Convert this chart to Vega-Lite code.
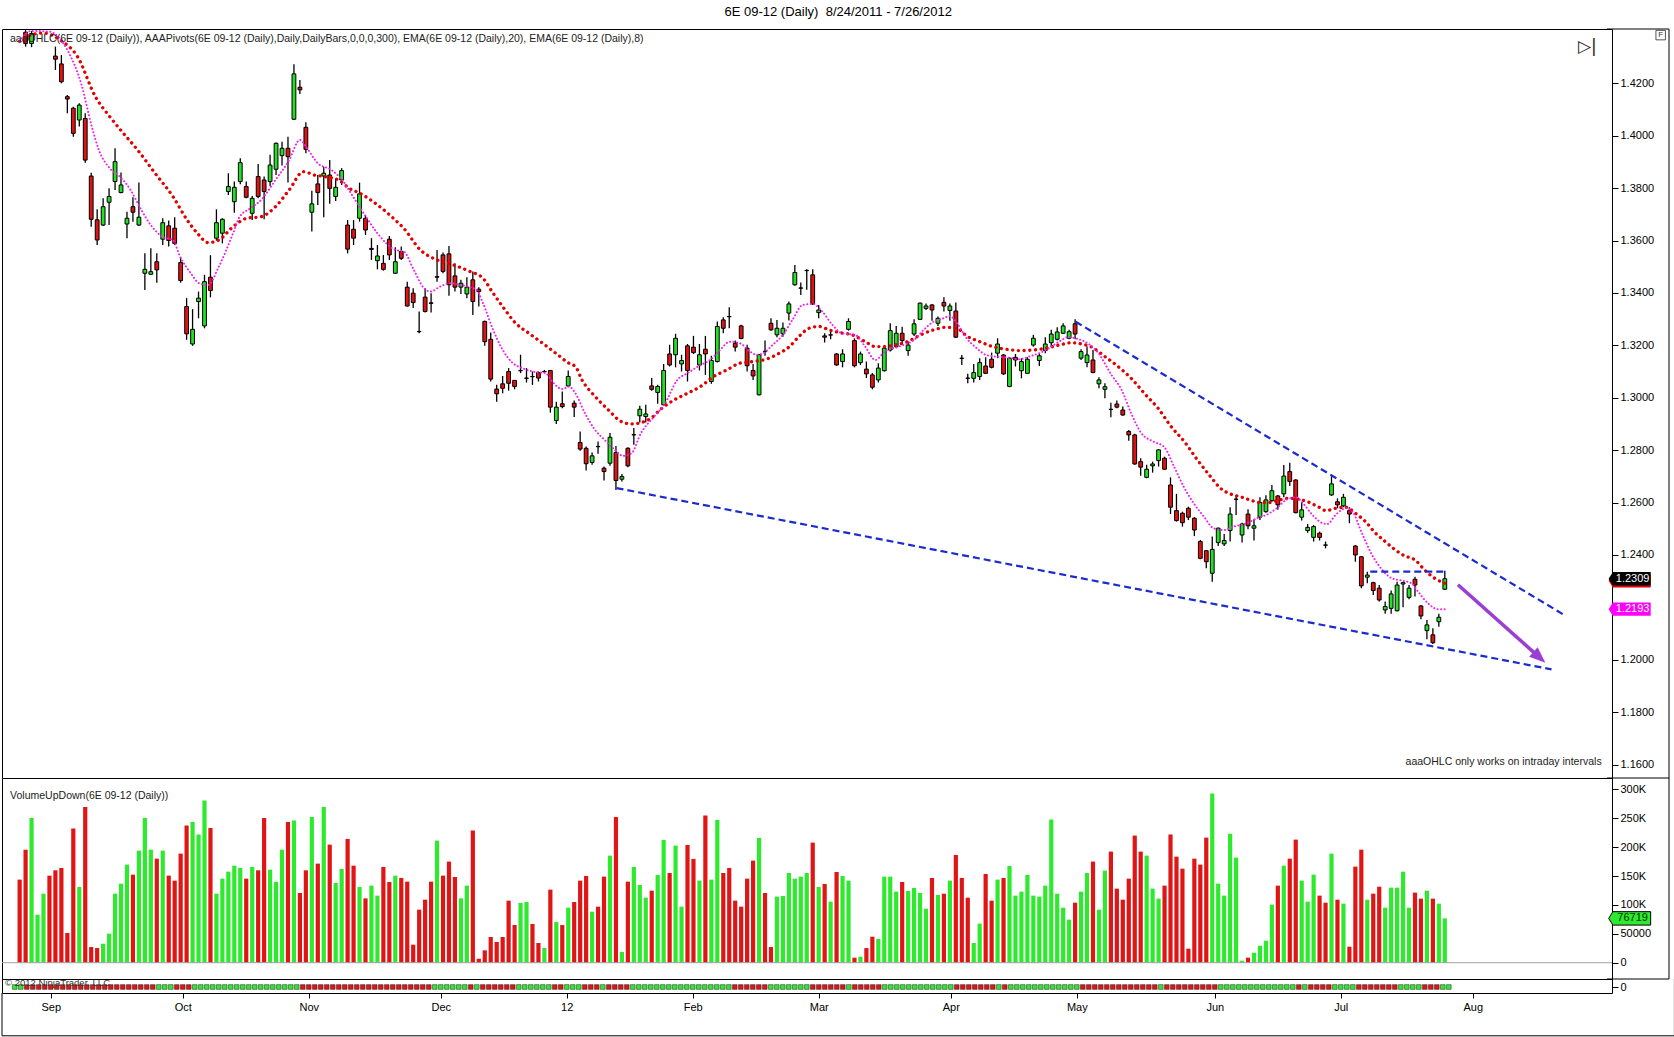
{
  "$schema": "https://vega.github.io/schema/vega-lite/v6.json",
  "background": "white",
  "padding": {"left": 1, "top": 5, "right": 1, "bottom": 0},
  "bounds": "flush",
  "spacing": 0,
  "title": {"text": "6E 09-12 (Daily)\u00a0 8/24/2011 - 7/26/2012", "font": "Liberation Sans", "fontSize": 13, "fontWeight": "normal", "color": "#000000", "anchor": "middle", "offset": 9},
  "resolve": {"scale": {"y": "independent", "color": "independent"}},
  "datasets": {
    "bars": [
      {"i":0,"o":1.445,"h":1.451,"l":1.442,"c":1.443,"v":143800,"vc":"d","sc":"u"},
      {"i":1,"o":1.4395,"h":1.442,"l":1.434,"c":1.4352,"v":195700,"vc":"d","sc":"u"},
      {"i":2,"o":1.4352,"h":1.44,"l":1.4338,"c":1.439,"v":250600,"vc":"u","sc":"d"},
      {"i":3,"o":1.442,"h":1.452,"l":1.4415,"c":1.449,"v":83100,"vc":"u","sc":"d"},
      {"i":4,"o":1.449,"h":1.454,"l":1.444,"c":1.4505,"v":119500,"vc":"u","sc":"d"},
      {"i":5,"o":1.45,"h":1.453,"l":1.442,"c":1.444,"v":150700,"vc":"d","sc":"d"},
      {"i":6,"o":1.4304,"h":1.434,"l":1.4251,"c":1.4292,"v":159900,"vc":"d","sc":"d"},
      {"i":7,"o":1.4274,"h":1.4308,"l":1.42,"c":1.4206,"v":164000,"vc":"d","sc":"d"},
      {"i":8,"o":1.4149,"h":1.4155,"l":1.4086,"c":1.414,"v":51400,"vc":"d","sc":"d"},
      {"i":9,"o":1.4105,"h":1.4111,"l":1.3996,"c":1.4009,"v":232100,"vc":"d","sc":"d"},
      {"i":10,"o":1.406,"h":1.4124,"l":1.4035,"c":1.4117,"v":131100,"vc":"u","sc":"d"},
      {"i":11,"o":1.4066,"h":1.4086,"l":1.3897,"c":1.3907,"v":269600,"vc":"d","sc":"d"},
      {"i":12,"o":1.3846,"h":1.3859,"l":1.3653,"c":1.3681,"v":27100,"vc":"d","sc":"d"},
      {"i":13,"o":1.3679,"h":1.3719,"l":1.3583,"c":1.3602,"v":25400,"vc":"d","sc":"d"},
      {"i":14,"o":1.3659,"h":1.3761,"l":1.3655,"c":1.3729,"v":32900,"vc":"u","sc":"d"},
      {"i":15,"o":1.3746,"h":1.3799,"l":1.3659,"c":1.3768,"v":50200,"vc":"u","sc":"d"},
      {"i":16,"o":1.3825,"h":1.3952,"l":1.3793,"c":1.3901,"v":119500,"vc":"u","sc":"d"},
      {"i":17,"o":1.3783,"h":1.386,"l":1.378,"c":1.3812,"v":136800,"vc":"u","sc":"d"},
      {"i":18,"o":1.3663,"h":1.371,"l":1.3609,"c":1.3685,"v":169800,"vc":"u","sc":"d"},
      {"i":19,"o":1.3729,"h":1.3765,"l":1.3672,"c":1.3708,"v":152400,"vc":"d","sc":"d"},
      {"i":20,"o":1.3659,"h":1.3821,"l":1.3655,"c":1.3689,"v":194000,"vc":"u","sc":"d"},
      {"i":21,"o":1.3475,"h":1.3551,"l":1.3411,"c":1.349,"v":250600,"vc":"u","sc":"d"},
      {"i":22,"o":1.3471,"h":1.357,"l":1.347,"c":1.3481,"v":195700,"vc":"u","sc":"d"},
      {"i":23,"o":1.3519,"h":1.3551,"l":1.3439,"c":1.3488,"v":180100,"vc":"d","sc":"d"},
      {"i":24,"o":1.3605,"h":1.3685,"l":1.3583,"c":1.3668,"v":194000,"vc":"u","sc":"u"},
      {"i":25,"o":1.3656,"h":1.3676,"l":1.3577,"c":1.36,"v":150700,"vc":"d","sc":"u"},
      {"i":26,"o":1.3647,"h":1.3689,"l":1.3583,"c":1.3589,"v":142000,"vc":"d","sc":"u"},
      {"i":27,"o":1.3516,"h":1.3536,"l":1.3439,"c":1.3447,"v":188800,"vc":"d","sc":"d"},
      {"i":28,"o":1.3348,"h":1.338,"l":1.3221,"c":1.3244,"v":237300,"vc":"d","sc":"d"},
      {"i":29,"o":1.3205,"h":1.3338,"l":1.3198,"c":1.3261,"v":243700,"vc":"u","sc":"d"},
      {"i":30,"o":1.3367,"h":1.3405,"l":1.3303,"c":1.338,"v":221700,"vc":"u","sc":"u"},
      {"i":31,"o":1.3274,"h":1.3469,"l":1.3265,"c":1.3443,"v":280600,"vc":"u","sc":"u"},
      {"i":32,"o":1.346,"h":1.3544,"l":1.3383,"c":1.3409,"v":233300,"vc":"d","sc":"u"},
      {"i":33,"o":1.3609,"h":1.3719,"l":1.36,"c":1.3668,"v":119500,"vc":"u","sc":"u"},
      {"i":34,"o":1.3628,"h":1.3685,"l":1.3589,"c":1.3681,"v":145500,"vc":"u","sc":"u"},
      {"i":35,"o":1.3787,"h":1.3857,"l":1.3774,"c":1.3806,"v":157600,"vc":"u","sc":"u"},
      {"i":36,"o":1.3748,"h":1.3825,"l":1.3706,"c":1.3803,"v":168000,"vc":"u","sc":"u"},
      {"i":37,"o":1.3825,"h":1.3914,"l":1.3815,"c":1.3897,"v":164000,"vc":"u","sc":"u"},
      {"i":38,"o":1.3806,"h":1.3825,"l":1.3761,"c":1.3765,"v":145500,"vc":"d","sc":"u"},
      {"i":39,"o":1.3704,"h":1.377,"l":1.3678,"c":1.3761,"v":165700,"vc":"u","sc":"u"},
      {"i":40,"o":1.3844,"h":1.3892,"l":1.3761,"c":1.3768,"v":159900,"vc":"d","sc":"u"},
      {"i":41,"o":1.3831,"h":1.3844,"l":1.3681,"c":1.3787,"v":250600,"vc":"d","sc":"u"},
      {"i":42,"o":1.3825,"h":1.3927,"l":1.3808,"c":1.3888,"v":161100,"vc":"u","sc":"u"},
      {"i":43,"o":1.3872,"h":1.3974,"l":1.385,"c":1.3971,"v":139700,"vc":"u","sc":"u"},
      {"i":44,"o":1.3924,"h":1.3977,"l":1.3886,"c":1.3952,"v":195700,"vc":"u","sc":"u"},
      {"i":45,"o":1.3952,"h":1.3996,"l":1.3821,"c":1.392,"v":243700,"vc":"d","sc":"u"},
      {"i":46,"o":1.4063,"h":1.4273,"l":1.406,"c":1.4236,"v":246000,"vc":"u","sc":"u"},
      {"i":47,"o":1.4185,"h":1.4213,"l":1.4159,"c":1.4175,"v":120700,"vc":"d","sc":"u"},
      {"i":48,"o":1.4032,"h":1.4051,"l":1.3933,"c":1.3948,"v":159900,"vc":"d","sc":"d"},
      {"i":49,"o":1.3708,"h":1.379,"l":1.3634,"c":1.374,"v":252300,"vc":"u","sc":"d"},
      {"i":50,"o":1.3816,"h":1.385,"l":1.3736,"c":1.3783,"v":171500,"vc":"d","sc":"d"},
      {"i":51,"o":1.3846,"h":1.3882,"l":1.3689,"c":1.3857,"v":269600,"vc":"u","sc":"d"},
      {"i":52,"o":1.385,"h":1.3907,"l":1.374,"c":1.3799,"v":204400,"vc":"d","sc":"d"},
      {"i":53,"o":1.3768,"h":1.3837,"l":1.3751,"c":1.3803,"v":138000,"vc":"u","sc":"d"},
      {"i":54,"o":1.3831,"h":1.3876,"l":1.3812,"c":1.3867,"v":162200,"vc":"u","sc":"d"},
      {"i":55,"o":1.3659,"h":1.3678,"l":1.3551,"c":1.3567,"v":214200,"vc":"d","sc":"d"},
      {"i":56,"o":1.3643,"h":1.3678,"l":1.3583,"c":1.3609,"v":168000,"vc":"d","sc":"d"},
      {"i":57,"o":1.3685,"h":1.3821,"l":1.3672,"c":1.3778,"v":131100,"vc":"u","sc":"d"},
      {"i":58,"o":1.3685,"h":1.3698,"l":1.3621,"c":1.364,"v":111400,"vc":"d","sc":"d"},
      {"i":59,"o":1.357,"h":1.3609,"l":1.3526,"c":1.3566,"v":133400,"vc":"u","sc":"d"},
      {"i":60,"o":1.3523,"h":1.3583,"l":1.349,"c":1.3541,"v":116100,"vc":"u","sc":"d"},
      {"i":61,"o":1.3513,"h":1.3545,"l":1.3485,"c":1.349,"v":165700,"vc":"d","sc":"d"},
      {"i":62,"o":1.3605,"h":1.3617,"l":1.3526,"c":1.3545,"v":139700,"vc":"d","sc":"d"},
      {"i":63,"o":1.3475,"h":1.3574,"l":1.3472,"c":1.3519,"v":150700,"vc":"u","sc":"d"},
      {"i":64,"o":1.3558,"h":1.3577,"l":1.3526,"c":1.3532,"v":146700,"vc":"d","sc":"d"},
      {"i":65,"o":1.3422,"h":1.3443,"l":1.3348,"c":1.335,"v":140300,"vc":"d","sc":"d"},
      {"i":66,"o":1.3399,"h":1.3418,"l":1.3342,"c":1.3363,"v":31200,"vc":"d","sc":"d"},
      {"i":67,"o":1.3253,"h":1.3329,"l":1.3246,"c":1.3252,"v":91800,"vc":"d","sc":"d"},
      {"i":68,"o":1.3384,"h":1.3418,"l":1.3325,"c":1.3329,"v":109100,"vc":"d","sc":"d"},
      {"i":69,"o":1.3362,"h":1.3399,"l":1.3325,"c":1.336,"v":140300,"vc":"d","sc":"d"},
      {"i":70,"o":1.3462,"h":1.3564,"l":1.3443,"c":1.346,"v":211300,"vc":"u","sc":"u"},
      {"i":71,"o":1.3545,"h":1.3554,"l":1.3475,"c":1.3482,"v":150700,"vc":"d","sc":"u"},
      {"i":72,"o":1.3549,"h":1.3579,"l":1.3389,"c":1.3431,"v":175000,"vc":"d","sc":"u"},
      {"i":73,"o":1.3465,"h":1.3513,"l":1.3405,"c":1.3422,"v":148400,"vc":"d","sc":"u"},
      {"i":74,"o":1.3422,"h":1.345,"l":1.3396,"c":1.3437,"v":111400,"vc":"u","sc":"u"},
      {"i":75,"o":1.3396,"h":1.346,"l":1.338,"c":1.3422,"v":133400,"vc":"u","sc":"u"},
      {"i":76,"o":1.345,"h":1.3482,"l":1.3316,"c":1.3367,"v":228700,"vc":"d","sc":"d"},
      {"i":77,"o":1.3414,"h":1.3422,"l":1.3348,"c":1.3405,"v":6900,"vc":"d","sc":"u"},
      {"i":78,"o":1.3291,"h":1.3295,"l":1.3198,"c":1.3214,"v":21400,"vc":"d","sc":"d"},
      {"i":79,"o":1.3223,"h":1.3249,"l":1.3062,"c":1.3071,"v":44500,"vc":"d","sc":"d"},
      {"i":80,"o":1.3033,"h":1.3049,"l":1.2985,"c":1.3015,"v":35800,"vc":"d","sc":"d"},
      {"i":81,"o":1.3053,"h":1.3083,"l":1.3017,"c":1.3036,"v":44500,"vc":"d","sc":"d"},
      {"i":82,"o":1.31,"h":1.3113,"l":1.3027,"c":1.3055,"v":107400,"vc":"d","sc":"d"},
      {"i":83,"o":1.3066,"h":1.3068,"l":1.3032,"c":1.3043,"v":65200,"vc":"d","sc":"d"},
      {"i":84,"o":1.3104,"h":1.3164,"l":1.3094,"c":1.3103,"v":103400,"vc":"u","sc":"u"},
      {"i":85,"o":1.3075,"h":1.3113,"l":1.3058,"c":1.3074,"v":105100,"vc":"u","sc":"u"},
      {"i":86,"o":1.3081,"h":1.31,"l":1.3049,"c":1.308,"v":67000,"vc":"d","sc":"u"},
      {"i":87,"o":1.3096,"h":1.31,"l":1.3062,"c":1.3075,"v":34100,"vc":"d","sc":"u"},
      {"i":88,"o":1.31,"h":1.3106,"l":1.3094,"c":1.3099,"v":25400,"vc":"u","sc":"u"},
      {"i":89,"o":1.3104,"h":1.3106,"l":1.2943,"c":1.2964,"v":126500,"vc":"d","sc":"u"},
      {"i":90,"o":1.2913,"h":1.2985,"l":1.29,"c":1.2964,"v":70400,"vc":"u","sc":"d"},
      {"i":91,"o":1.2977,"h":1.3024,"l":1.296,"c":1.2966,"v":65200,"vc":"d","sc":"d"},
      {"i":92,"o":1.3045,"h":1.3104,"l":1.304,"c":1.3081,"v":95300,"vc":"u","sc":"u"},
      {"i":93,"o":1.2979,"h":1.2989,"l":1.2926,"c":1.2964,"v":105100,"vc":"d","sc":"u"},
      {"i":94,"o":1.2829,"h":1.2871,"l":1.2798,"c":1.2804,"v":142000,"vc":"d","sc":"u"},
      {"i":95,"o":1.2807,"h":1.2814,"l":1.2722,"c":1.2748,"v":150100,"vc":"d","sc":"d"},
      {"i":96,"o":1.2753,"h":1.2791,"l":1.2744,"c":1.2778,"v":88300,"vc":"u","sc":"d"},
      {"i":97,"o":1.2814,"h":1.2833,"l":1.2786,"c":1.2813,"v":97000,"vc":"d","sc":"d"},
      {"i":98,"o":1.2731,"h":1.2737,"l":1.2684,"c":1.2718,"v":149000,"vc":"d","sc":"u"},
      {"i":99,"o":1.275,"h":1.2865,"l":1.274,"c":1.2849,"v":185300,"vc":"u","sc":"d"},
      {"i":100,"o":1.2791,"h":1.2816,"l":1.2648,"c":1.2684,"v":252300,"vc":"d","sc":"d"},
      {"i":101,"o":1.2689,"h":1.2709,"l":1.268,"c":1.2699,"v":18500,"vc":"u","sc":"d"},
      {"i":102,"o":1.2807,"h":1.2811,"l":1.2735,"c":1.274,"v":140300,"vc":"d","sc":"d"},
      {"i":103,"o":1.2859,"h":1.2884,"l":1.282,"c":1.2858,"v":165700,"vc":"u","sc":"u"},
      {"i":104,"o":1.2931,"h":1.2969,"l":1.2905,"c":1.2956,"v":134500,"vc":"u","sc":"u"},
      {"i":105,"o":1.2928,"h":1.2973,"l":1.2905,"c":1.2938,"v":112600,"vc":"u","sc":"u"},
      {"i":106,"o":1.3045,"h":1.3075,"l":1.3027,"c":1.3032,"v":124700,"vc":"d","sc":"u"},
      {"i":107,"o":1.302,"h":1.3049,"l":1.2977,"c":1.3043,"v":151900,"vc":"u","sc":"u"},
      {"i":108,"o":1.2973,"h":1.3129,"l":1.2969,"c":1.3104,"v":212500,"vc":"u","sc":"u"},
      {"i":109,"o":1.3167,"h":1.3202,"l":1.3119,"c":1.3125,"v":155300,"vc":"d","sc":"u"},
      {"i":110,"o":1.3164,"h":1.3244,"l":1.3116,"c":1.3227,"v":202700,"vc":"u","sc":"u"},
      {"i":111,"o":1.3129,"h":1.3164,"l":1.31,"c":1.3142,"v":97000,"vc":"u","sc":"u"},
      {"i":112,"o":1.3198,"h":1.3205,"l":1.3062,"c":1.3104,"v":203800,"vc":"d","sc":"u"},
      {"i":113,"o":1.3193,"h":1.3236,"l":1.3167,"c":1.3172,"v":179600,"vc":"d","sc":"u"},
      {"i":114,"o":1.3125,"h":1.3205,"l":1.3104,"c":1.3164,"v":142000,"vc":"u","sc":"u"},
      {"i":115,"o":1.3185,"h":1.3236,"l":1.3087,"c":1.3167,"v":254600,"vc":"d","sc":"u"},
      {"i":116,"o":1.3062,"h":1.316,"l":1.3053,"c":1.3142,"v":143800,"vc":"u","sc":"u"},
      {"i":117,"o":1.3138,"h":1.3291,"l":1.3134,"c":1.3272,"v":247100,"vc":"u","sc":"u"},
      {"i":118,"o":1.3297,"h":1.3307,"l":1.3246,"c":1.3265,"v":155300,"vc":"d","sc":"u"},
      {"i":119,"o":1.331,"h":1.3345,"l":1.3265,"c":1.3309,"v":164000,"vc":"d","sc":"u"},
      {"i":120,"o":1.3208,"h":1.3218,"l":1.3176,"c":1.3193,"v":107400,"vc":"d","sc":"d"},
      {"i":121,"o":1.3274,"h":1.3278,"l":1.3223,"c":1.3226,"v":97000,"vc":"d","sc":"d"},
      {"i":122,"o":1.3189,"h":1.3202,"l":1.31,"c":1.3122,"v":145500,"vc":"d","sc":"d"},
      {"i":123,"o":1.3104,"h":1.3129,"l":1.3068,"c":1.3083,"v":176700,"vc":"d","sc":"d"},
      {"i":124,"o":1.3011,"h":1.3167,"l":1.3008,"c":1.3164,"v":216000,"vc":"u","sc":"d"},
      {"i":125,"o":1.3177,"h":1.3218,"l":1.316,"c":1.3176,"v":120700,"vc":"d","sc":"d"},
      {"i":126,"o":1.3284,"h":1.3303,"l":1.3256,"c":1.3259,"v":27100,"vc":"d","sc":"u"},
      {"i":127,"o":1.324,"h":1.3297,"l":1.3231,"c":1.3265,"v":114300,"vc":"u","sc":"u"},
      {"i":128,"o":1.3244,"h":1.3287,"l":1.3233,"c":1.3265,"v":115500,"vc":"u","sc":"u"},
      {"i":129,"o":1.3323,"h":1.3367,"l":1.3295,"c":1.3358,"v":155300,"vc":"u","sc":"u"},
      {"i":130,"o":1.3431,"h":1.3507,"l":1.3427,"c":1.3478,"v":145500,"vc":"u","sc":"u"},
      {"i":131,"o":1.3419,"h":1.344,"l":1.3392,"c":1.3418,"v":149000,"vc":"u","sc":"u"},
      {"i":132,"o":1.3486,"h":1.349,"l":1.3412,"c":1.3485,"v":155300,"vc":"u","sc":"u"},
      {"i":133,"o":1.3469,"h":1.349,"l":1.3354,"c":1.3358,"v":207900,"vc":"d","sc":"d"},
      {"i":134,"o":1.3325,"h":1.3354,"l":1.3303,"c":1.3335,"v":131100,"vc":"u","sc":"d"},
      {"i":135,"o":1.3236,"h":1.3246,"l":1.3211,"c":1.3231,"v":136300,"vc":"d","sc":"d"},
      {"i":136,"o":1.324,"h":1.3259,"l":1.3223,"c":1.3239,"v":105700,"vc":"u","sc":"d"},
      {"i":137,"o":1.3167,"h":1.317,"l":1.3122,"c":1.3125,"v":157100,"vc":"d","sc":"d"},
      {"i":138,"o":1.3138,"h":1.3185,"l":1.3116,"c":1.3167,"v":150100,"vc":"u","sc":"d"},
      {"i":139,"o":1.3261,"h":1.3303,"l":1.3256,"c":1.3291,"v":142000,"vc":"u","sc":"u"},
      {"i":140,"o":1.3218,"h":1.3227,"l":1.3116,"c":1.3122,"v":8700,"vc":"d","sc":"d"},
      {"i":141,"o":1.3134,"h":1.3176,"l":1.3125,"c":1.3167,"v":10400,"vc":"u","sc":"d"},
      {"i":142,"o":1.3109,"h":1.3138,"l":1.3075,"c":1.3091,"v":25400,"vc":"d","sc":"d"},
      {"i":143,"o":1.3087,"h":1.3094,"l":1.3032,"c":1.304,"v":45000,"vc":"d","sc":"d"},
      {"i":144,"o":1.3068,"h":1.3132,"l":1.3058,"c":1.3113,"v":41000,"vc":"u","sc":"d"},
      {"i":145,"o":1.3103,"h":1.3201,"l":1.31,"c":1.3189,"v":149000,"vc":"u","sc":"u"},
      {"i":146,"o":1.3182,"h":1.3284,"l":1.3176,"c":1.3256,"v":149000,"vc":"u","sc":"u"},
      {"i":147,"o":1.3195,"h":1.3274,"l":1.3189,"c":1.3246,"v":123000,"vc":"u","sc":"u"},
      {"i":148,"o":1.3246,"h":1.3271,"l":1.3201,"c":1.3218,"v":139700,"vc":"d","sc":"u"},
      {"i":149,"o":1.318,"h":1.3214,"l":1.316,"c":1.3201,"v":124100,"vc":"u","sc":"u"},
      {"i":150,"o":1.3243,"h":1.3299,"l":1.3236,"c":1.3282,"v":129300,"vc":"u","sc":"u"},
      {"i":151,"o":1.3299,"h":1.3363,"l":1.3297,"c":1.3361,"v":120700,"vc":"u","sc":"u"},
      {"i":152,"o":1.3341,"h":1.336,"l":1.3335,"c":1.335,"v":93500,"vc":"u","sc":"u"},
      {"i":153,"o":1.3354,"h":1.3358,"l":1.3294,"c":1.3335,"v":146700,"vc":"d","sc":"u"},
      {"i":154,"o":1.3284,"h":1.331,"l":1.3274,"c":1.3303,"v":117200,"vc":"u","sc":"u"},
      {"i":155,"o":1.3364,"h":1.3383,"l":1.3329,"c":1.335,"v":119500,"vc":"d","sc":"u"},
      {"i":156,"o":1.3333,"h":1.336,"l":1.3294,"c":1.335,"v":142000,"vc":"u","sc":"u"},
      {"i":157,"o":1.3331,"h":1.3363,"l":1.3228,"c":1.3231,"v":186500,"vc":"d","sc":"d"},
      {"i":158,"o":1.3151,"h":1.3163,"l":1.3125,"c":1.315,"v":146700,"vc":"d","sc":"d"},
      {"i":159,"o":1.3075,"h":1.3091,"l":1.3055,"c":1.3074,"v":112600,"vc":"d","sc":"d"},
      {"i":160,"o":1.3074,"h":1.3129,"l":1.3058,"c":1.3096,"v":34100,"vc":"u","sc":"d"},
      {"i":161,"o":1.3081,"h":1.3151,"l":1.3068,"c":1.3134,"v":67600,"vc":"u","sc":"d"},
      {"i":162,"o":1.3121,"h":1.3154,"l":1.3091,"c":1.3093,"v":153600,"vc":"d","sc":"d"},
      {"i":163,"o":1.3147,"h":1.3172,"l":1.3112,"c":1.3116,"v":107400,"vc":"d","sc":"d"},
      {"i":164,"o":1.317,"h":1.3227,"l":1.3151,"c":1.3205,"v":143800,"vc":"u","sc":"u"},
      {"i":165,"o":1.3163,"h":1.3167,"l":1.3087,"c":1.3091,"v":146700,"vc":"d","sc":"d"},
      {"i":166,"o":1.3043,"h":1.3154,"l":1.304,"c":1.3151,"v":167400,"vc":"u","sc":"u"},
      {"i":167,"o":1.3154,"h":1.3167,"l":1.3119,"c":1.3144,"v":116100,"vc":"u","sc":"u"},
      {"i":168,"o":1.3103,"h":1.3151,"l":1.3074,"c":1.3138,"v":123000,"vc":"u","sc":"u"},
      {"i":169,"o":1.3093,"h":1.3154,"l":1.3091,"c":1.3147,"v":151900,"vc":"u","sc":"u"},
      {"i":170,"o":1.3201,"h":1.324,"l":1.3195,"c":1.3227,"v":116100,"vc":"u","sc":"u"},
      {"i":171,"o":1.3142,"h":1.3167,"l":1.3121,"c":1.316,"v":114300,"vc":"u","sc":"u"},
      {"i":172,"o":1.318,"h":1.3231,"l":1.317,"c":1.3205,"v":133400,"vc":"u","sc":"u"},
      {"i":173,"o":1.321,"h":1.3259,"l":1.3195,"c":1.3243,"v":247700,"vc":"u","sc":"u"},
      {"i":174,"o":1.3223,"h":1.3269,"l":1.3218,"c":1.3251,"v":119500,"vc":"u","sc":"u"},
      {"i":175,"o":1.3246,"h":1.3284,"l":1.3243,"c":1.3274,"v":95300,"vc":"u","sc":"u"},
      {"i":176,"o":1.3227,"h":1.3259,"l":1.3223,"c":1.3252,"v":74500,"vc":"u","sc":"u"},
      {"i":177,"o":1.3282,"h":1.3299,"l":1.3223,"c":1.3243,"v":103900,"vc":"d","sc":"u"},
      {"i":178,"o":1.3151,"h":1.3185,"l":1.3144,"c":1.3176,"v":123000,"vc":"u","sc":"d"},
      {"i":179,"o":1.3134,"h":1.3195,"l":1.3116,"c":1.3163,"v":155300,"vc":"u","sc":"d"},
      {"i":180,"o":1.3144,"h":1.3182,"l":1.3093,"c":1.3096,"v":175000,"vc":"d","sc":"d"},
      {"i":181,"o":1.3053,"h":1.3078,"l":1.3036,"c":1.3068,"v":91800,"vc":"u","sc":"d"},
      {"i":182,"o":1.3032,"h":1.3055,"l":1.2998,"c":1.3042,"v":159400,"vc":"u","sc":"d"},
      {"i":183,"o":1.2956,"h":1.2981,"l":1.2925,"c":1.2955,"v":192300,"vc":"d","sc":"d"},
      {"i":184,"o":1.2976,"h":1.2989,"l":1.296,"c":1.2964,"v":128200,"vc":"d","sc":"d"},
      {"i":185,"o":1.2953,"h":1.2966,"l":1.2931,"c":1.2934,"v":109100,"vc":"d","sc":"d"},
      {"i":186,"o":1.2871,"h":1.2877,"l":1.2836,"c":1.2858,"v":145500,"vc":"d","sc":"d"},
      {"i":187,"o":1.2858,"h":1.2862,"l":1.2744,"c":1.2747,"v":220000,"vc":"d","sc":"d"},
      {"i":188,"o":1.2756,"h":1.2769,"l":1.2702,"c":1.2735,"v":192300,"vc":"d","sc":"d"},
      {"i":189,"o":1.2696,"h":1.2744,"l":1.2693,"c":1.2727,"v":185300,"vc":"u","sc":"d"},
      {"i":190,"o":1.274,"h":1.2756,"l":1.2714,"c":1.2747,"v":128200,"vc":"u","sc":"d"},
      {"i":191,"o":1.276,"h":1.2803,"l":1.2737,"c":1.2801,"v":110900,"vc":"u","sc":"u"},
      {"i":192,"o":1.2769,"h":1.2775,"l":1.2724,"c":1.2727,"v":133400,"vc":"d","sc":"d"},
      {"i":193,"o":1.2667,"h":1.2696,"l":1.2556,"c":1.2582,"v":221700,"vc":"d","sc":"d"},
      {"i":194,"o":1.2569,"h":1.2633,"l":1.2527,"c":1.2531,"v":183600,"vc":"d","sc":"d"},
      {"i":195,"o":1.2559,"h":1.2565,"l":1.2508,"c":1.2523,"v":162800,"vc":"d","sc":"d"},
      {"i":196,"o":1.2578,"h":1.2584,"l":1.2533,"c":1.2544,"v":24300,"vc":"d","sc":"d"},
      {"i":197,"o":1.254,"h":1.2544,"l":1.2472,"c":1.2495,"v":180100,"vc":"d","sc":"d"},
      {"i":198,"o":1.2451,"h":1.2457,"l":1.2383,"c":1.2387,"v":169800,"vc":"d","sc":"d"},
      {"i":199,"o":1.2416,"h":1.2419,"l":1.2349,"c":1.2374,"v":216500,"vc":"d","sc":"d"},
      {"i":200,"o":1.233,"h":1.247,"l":1.2298,"c":1.2421,"v":292700,"vc":"u","sc":"d"},
      {"i":201,"o":1.2447,"h":1.2505,"l":1.2434,"c":1.2502,"v":136800,"vc":"u","sc":"u"},
      {"i":202,"o":1.2442,"h":1.248,"l":1.2434,"c":1.2455,"v":116100,"vc":"u","sc":"u"},
      {"i":203,"o":1.2493,"h":1.2582,"l":1.2451,"c":1.2556,"v":223400,"vc":"u","sc":"u"},
      {"i":204,"o":1.2613,"h":1.2629,"l":1.2552,"c":1.2612,"v":181900,"vc":"u","sc":"u"},
      {"i":205,"o":1.2476,"h":1.2523,"l":1.2447,"c":1.2518,"v":3500,"vc":"u","sc":"u"},
      {"i":206,"o":1.2556,"h":1.2574,"l":1.2498,"c":1.2511,"v":8700,"vc":"d","sc":"u"},
      {"i":207,"o":1.2502,"h":1.2536,"l":1.2455,"c":1.2511,"v":17300,"vc":"u","sc":"u"},
      {"i":208,"o":1.2544,"h":1.262,"l":1.2533,"c":1.26,"v":29400,"vc":"u","sc":"u"},
      {"i":209,"o":1.2565,"h":1.2628,"l":1.2561,"c":1.261,"v":38100,"vc":"u","sc":"u"},
      {"i":210,"o":1.2607,"h":1.2667,"l":1.2603,"c":1.2645,"v":100500,"vc":"u","sc":"u"},
      {"i":211,"o":1.2625,"h":1.2629,"l":1.2572,"c":1.2591,"v":133400,"vc":"d","sc":"u"},
      {"i":212,"o":1.2633,"h":1.2743,"l":1.262,"c":1.2701,"v":168000,"vc":"u","sc":"u"},
      {"i":213,"o":1.2718,"h":1.2752,"l":1.2663,"c":1.268,"v":180100,"vc":"d","sc":"u"},
      {"i":214,"o":1.2686,"h":1.2689,"l":1.2559,"c":1.2561,"v":213100,"vc":"d","sc":"d"},
      {"i":215,"o":1.2544,"h":1.2603,"l":1.2531,"c":1.2572,"v":142000,"vc":"u","sc":"u"},
      {"i":216,"o":1.2493,"h":1.2518,"l":1.2485,"c":1.2505,"v":105700,"vc":"u","sc":"d"},
      {"i":217,"o":1.2467,"h":1.2514,"l":1.2451,"c":1.2508,"v":152400,"vc":"u","sc":"d"},
      {"i":218,"o":1.2483,"h":1.2489,"l":1.2455,"c":1.2467,"v":116100,"vc":"d","sc":"d"},
      {"i":219,"o":1.2438,"h":1.2451,"l":1.2425,"c":1.2437,"v":103900,"vc":"d","sc":"d"},
      {"i":220,"o":1.2629,"h":1.2701,"l":1.2625,"c":1.2671,"v":188800,"vc":"u","sc":"u"},
      {"i":221,"o":1.2603,"h":1.2616,"l":1.2578,"c":1.2591,"v":109100,"vc":"d","sc":"u"},
      {"i":222,"o":1.2587,"h":1.2633,"l":1.2582,"c":1.262,"v":102200,"vc":"u","sc":"u"},
      {"i":223,"o":1.2569,"h":1.2582,"l":1.2521,"c":1.2556,"v":27700,"vc":"d","sc":"u"},
      {"i":224,"o":1.2434,"h":1.2438,"l":1.2374,"c":1.24,"v":166300,"vc":"d","sc":"d"},
      {"i":225,"o":1.2393,"h":1.2396,"l":1.2273,"c":1.2282,"v":195700,"vc":"d","sc":"d"},
      {"i":226,"o":1.2315,"h":1.2336,"l":1.2292,"c":1.2323,"v":109100,"vc":"u","sc":"d"},
      {"i":227,"o":1.2294,"h":1.2298,"l":1.2247,"c":1.2264,"v":119500,"vc":"d","sc":"d"},
      {"i":228,"o":1.2273,"h":1.2285,"l":1.2222,"c":1.2228,"v":131600,"vc":"d","sc":"d"},
      {"i":229,"o":1.219,"h":1.2222,"l":1.2175,"c":1.2203,"v":95300,"vc":"u","sc":"d"},
      {"i":230,"o":1.2196,"h":1.2264,"l":1.2175,"c":1.2251,"v":129900,"vc":"u","sc":"d"},
      {"i":231,"o":1.2187,"h":1.2298,"l":1.2184,"c":1.2285,"v":129900,"vc":"u","sc":"u"},
      {"i":232,"o":1.2289,"h":1.2298,"l":1.22,"c":1.2294,"v":157600,"vc":"u","sc":"u"},
      {"i":233,"o":1.2238,"h":1.2285,"l":1.2231,"c":1.2273,"v":95300,"vc":"u","sc":"u"},
      {"i":234,"o":1.2307,"h":1.2317,"l":1.2241,"c":1.2285,"v":121300,"vc":"d","sc":"u"},
      {"i":235,"o":1.2205,"h":1.2209,"l":1.2154,"c":1.2167,"v":110900,"vc":"d","sc":"d"},
      {"i":236,"o":1.2111,"h":1.2152,"l":1.2078,"c":1.2133,"v":124700,"vc":"u","sc":"d"},
      {"i":237,"o":1.2095,"h":1.212,"l":1.206,"c":1.2065,"v":110900,"vc":"d","sc":"d"},
      {"i":238,"o":1.2145,"h":1.2175,"l":1.2126,"c":1.2162,"v":102200,"vc":"u","sc":"u"},
      {"i":239,"o":1.2269,"h":1.234,"l":1.2266,"c":1.2309,"v":76719,"vc":"u","sc":"u"}
    ],
    "ema20": [
      {"i":0,"p":1.436},{"i":2,"p":1.4385},{"i":4,"p":1.4392},{"i":6.8,"p":1.4365},{"i":9.7,"p":1.4302},{"i":12.7,"p":1.4149},{"i":15.1,"p":1.4073},{"i":17.4,"p":1.4009},{"i":19.8,"p":1.3945},{"i":22.7,"p":1.3857},{"i":25.7,"p":1.3768},{"i":28.1,"p":1.3678},{"i":29.8,"p":1.3628},{"i":31.6,"p":1.3592},{"i":33.4,"p":1.3602},{"i":35.8,"p":1.3653},{"i":38.1,"p":1.3685},{"i":40.5,"p":1.3691},{"i":42.9,"p":1.3729},{"i":45.2,"p":1.3793},{"i":47.6,"p":1.3863},{"i":49.4,"p":1.385},{"i":51.1,"p":1.3844},{"i":53.5,"p":1.3831},{"i":55.3,"p":1.3799},{"i":57.1,"p":1.378},{"i":60,"p":1.3736},{"i":63,"p":1.3678},{"i":64.4,"p":1.3647},{"i":67.2,"p":1.3564},{"i":70,"p":1.3526},{"i":72.7,"p":1.3507},{"i":75.5,"p":1.3482},{"i":77.7,"p":1.3456},{"i":79.4,"p":1.3399},{"i":81,"p":1.3348},{"i":83.2,"p":1.3284},{"i":85.4,"p":1.3246},{"i":87.7,"p":1.3208},{"i":89.9,"p":1.317},{"i":92.1,"p":1.3132},{"i":93.2,"p":1.3119},{"i":94.3,"p":1.3068},{"i":96.5,"p":1.3005},{"i":98.7,"p":1.2954},{"i":100.9,"p":1.2909},{"i":102.6,"p":1.29},{"i":104.2,"p":1.2905},{"i":105.9,"p":1.2922},{"i":107.5,"p":1.2956},{"i":109.8,"p":1.2992},{"i":112,"p":1.3017},{"i":114.2,"p":1.3043},{"i":116.4,"p":1.3081},{"i":118.6,"p":1.3106},{"i":120.8,"p":1.3132},{"i":123,"p":1.3138},{"i":125.2,"p":1.3147},{"i":127.4,"p":1.317},{"i":129.1,"p":1.3195},{"i":130.7,"p":1.3234},{"i":132.4,"p":1.3265},{"i":134.1,"p":1.3272},{"i":135.7,"p":1.3259},{"i":137.4,"p":1.3249},{"i":139.6,"p":1.324},{"i":141.8,"p":1.3214},{"i":143.5,"p":1.3195},{"i":145.1,"p":1.3195},{"i":146.7,"p":1.3201},{"i":148.9,"p":1.3214},{"i":151.1,"p":1.324},{"i":153.3,"p":1.3259},{"i":155.5,"p":1.3269},{"i":157.2,"p":1.3265},{"i":158.8,"p":1.3236},{"i":161,"p":1.3214},{"i":163.2,"p":1.3195},{"i":165.4,"p":1.3185},{"i":167.7,"p":1.318},{"i":169.9,"p":1.3182},{"i":172.1,"p":1.3189},{"i":174.3,"p":1.3201},{"i":176.5,"p":1.321},{"i":178.1,"p":1.3205},{"i":179.8,"p":1.3193},{"i":182,"p":1.3157},{"i":184.2,"p":1.3119},{"i":186.4,"p":1.3074},{"i":188.6,"p":1.3017},{"i":190.9,"p":1.296},{"i":193.1,"p":1.289},{"i":195.3,"p":1.2833},{"i":197.5,"p":1.2763},{"i":199.7,"p":1.2699},{"i":201.4,"p":1.2654},{"i":203,"p":1.2633},{"i":204.7,"p":1.2622},{"i":206.3,"p":1.261},{"i":208,"p":1.26},{"i":209.6,"p":1.26},{"i":211.3,"p":1.261},{"i":212.9,"p":1.2616},{"i":214.6,"p":1.2612},{"i":216.3,"p":1.26},{"i":217.9,"p":1.2582},{"i":219.1,"p":1.2569},{"i":220.7,"p":1.2578},{"i":222.4,"p":1.2582},{"i":224,"p":1.2559},{"i":225.7,"p":1.2527},{"i":227.3,"p":1.2485},{"i":229,"p":1.2451},{"i":230.7,"p":1.2419},{"i":232.3,"p":1.2396},{"i":234,"p":1.2381},{"i":235.6,"p":1.2343},{"i":237.3,"p":1.2311},{"i":239,"p":1.2292}
    ],
    "ema8": [
      {"i":0,"p":1.436},{"i":2,"p":1.44},{"i":5,"p":1.4397},{"i":8,"p":1.4327},{"i":10.3,"p":1.42},{"i":12.1,"p":1.4035},{"i":13.3,"p":1.3945},{"i":15.1,"p":1.3876},{"i":16.8,"p":1.3844},{"i":18.6,"p":1.3793},{"i":20.4,"p":1.3717},{"i":22.2,"p":1.3653},{"i":23.9,"p":1.3615},{"i":25.7,"p":1.3602},{"i":26.9,"p":1.3539},{"i":28.7,"p":1.3475},{"i":30.1,"p":1.3437},{"i":31.6,"p":1.343},{"i":33.4,"p":1.35},{"i":35.8,"p":1.3628},{"i":36.9,"p":1.3691},{"i":38.7,"p":1.3723},{"i":40.5,"p":1.3755},{"i":42.9,"p":1.3831},{"i":45.2,"p":1.3907},{"i":47,"p":1.3984},{"i":48.2,"p":1.3952},{"i":50,"p":1.3895},{"i":52.3,"p":1.3869},{"i":54.1,"p":1.3831},{"i":55.9,"p":1.3768},{"i":57.7,"p":1.3704},{"i":60,"p":1.3628},{"i":63,"p":1.3564},{"i":64.4,"p":1.3558},{"i":66.1,"p":1.3488},{"i":67.8,"p":1.3418},{"i":68.9,"p":1.3405},{"i":70.5,"p":1.3424},{"i":72.2,"p":1.3437},{"i":73.8,"p":1.3431},{"i":75.5,"p":1.3422},{"i":76.6,"p":1.3412},{"i":77.7,"p":1.3361},{"i":79.4,"p":1.3259},{"i":81,"p":1.3183},{"i":82.7,"p":1.3132},{"i":84.3,"p":1.3113},{"i":86,"p":1.31},{"i":88.2,"p":1.3094},{"i":89.3,"p":1.3062},{"i":91,"p":1.3033},{"i":92.1,"p":1.3043},{"i":93.2,"p":1.3017},{"i":94.8,"p":1.2941},{"i":96.5,"p":1.2877},{"i":98.1,"p":1.2839},{"i":99.8,"p":1.2801},{"i":101.2,"p":1.2778},{"i":102.6,"p":1.2788},{"i":104.2,"p":1.2865},{"i":106.4,"p":1.2928},{"i":108.1,"p":1.2973},{"i":110.3,"p":1.3068},{"i":112,"p":1.3094},{"i":114.2,"p":1.3125},{"i":115.8,"p":1.3144},{"i":117.5,"p":1.3183},{"i":119.1,"p":1.3214},{"i":120.8,"p":1.3208},{"i":122.5,"p":1.3176},{"i":123.6,"p":1.3164},{"i":124.7,"p":1.317},{"i":126.3,"p":1.3202},{"i":128,"p":1.324},{"i":129.6,"p":1.3297},{"i":131.3,"p":1.3354},{"i":133,"p":1.3358},{"i":134.6,"p":1.3329},{"i":136.3,"p":1.3278},{"i":137.9,"p":1.3246},{"i":140.1,"p":1.324},{"i":141.8,"p":1.3195},{"i":143.5,"p":1.3144},{"i":145.1,"p":1.3176},{"i":147.8,"p":1.3198},{"i":150,"p":1.3221},{"i":151.6,"p":1.3259},{"i":153.3,"p":1.3291},{"i":154.9,"p":1.3303},{"i":156,"p":1.3312},{"i":157.2,"p":1.3284},{"i":158.8,"p":1.3227},{"i":160.5,"p":1.3189},{"i":162.1,"p":1.3163},{"i":163.8,"p":1.3157},{"i":165.4,"p":1.3154},{"i":167.7,"p":1.3147},{"i":169.3,"p":1.3157},{"i":171,"p":1.317},{"i":172.6,"p":1.3189},{"i":174.3,"p":1.3214},{"i":175.9,"p":1.3231},{"i":177.6,"p":1.3223},{"i":179.3,"p":1.3205},{"i":180.9,"p":1.317},{"i":183.1,"p":1.3087},{"i":184.8,"p":1.303},{"i":186.4,"p":1.2941},{"i":188.1,"p":1.2865},{"i":190.2,"p":1.2832},{"i":191.9,"p":1.2813},{"i":193.6,"p":1.2737},{"i":195.2,"p":1.2661},{"i":196.9,"p":1.2597},{"i":198.6,"p":1.2546},{"i":200.2,"p":1.2502},{"i":201.9,"p":1.2495},{"i":203.6,"p":1.2508},{"i":205.8,"p":1.2521},{"i":207.5,"p":1.254},{"i":209.1,"p":1.2553},{"i":210.8,"p":1.2578},{"i":212.4,"p":1.261},{"i":214.1,"p":1.262},{"i":215.2,"p":1.2597},{"i":216.8,"p":1.2553},{"i":218.5,"p":1.2521},{"i":219.3,"p":1.2518},{"i":220.7,"p":1.2553},{"i":222.4,"p":1.2578},{"i":223.5,"p":1.2565},{"i":225.1,"p":1.2483},{"i":226.8,"p":1.24},{"i":228.5,"p":1.2343},{"i":230.1,"p":1.2311},{"i":231.8,"p":1.2302},{"i":233.4,"p":1.2292},{"i":234.5,"p":1.226},{"i":236.2,"p":1.2215},{"i":237.8,"p":1.2193},{"i":239,"p":1.2193}
    ],
    "trend": [
      {"t":"upper","i":177.1,"p":1.329},{"t":"upper","i":259.0,"p":1.2171},
      {"t":"lower","i":100.1,"p":1.2655},{"t":"lower","i":256.9,"p":1.1963},
      {"t":"box","i":226.5,"p":1.2336},{"t":"box","i":239.1,"p":1.2336}
    ],
    "arrow": [
      {"i":241.2,"p":1.2286},{"i":254.86,"p":1.2009}
    ]
  },
  "vconcat": [
    {
      "width": 1610,
      "height": 749,
      "layer": [
        {
          "data": {"name": "bars"},
          "mark": {"type": "rule", "color": "#000000", "strokeWidth": 1.3, "clip": true},
          "encoding": {
            "x": {"field": "i", "type": "quantitative", "scale": {"domain": [-2.12, 266.2], "nice": false, "zero": false}, "axis": null},
            "y": {"field": "l", "type": "quantitative", "scale": {"domain": [1.15485, 1.44073], "nice": false, "zero": false},
                  "axis": {"orient": "right", "title": null, "values": [1.16, 1.18, 1.2, 1.24, 1.26, 1.28, 1.3, 1.32, 1.34, 1.36, 1.38, 1.4, 1.42], "format": ".4f", "tickSize": 6, "labelPadding": 2, "domain": false, "grid": false, "labelOverlap": false, "labelFont": "Liberation Sans", "labelFontSize": 11, "labelColor": "#000000", "tickColor": "#000000"}},
            "y2": {"field": "h"}
          }
        },
        {
          "data": {"name": "bars"},
          "mark": {"type": "bar", "width": 3.8, "stroke": "#000000", "strokeWidth": 1, "clip": true},
          "encoding": {
            "x": {"field": "i", "type": "quantitative"},
            "y": {"field": "o", "type": "quantitative"},
            "y2": {"field": "c"},
            "color": {"condition": {"test": "datum.c >= datum.o", "value": "#22e022"}, "value": "#e01212"}
          }
        },
        {
          "data": {"name": "ema20"},
          "mark": {"type": "line", "color": "#e00000", "strokeWidth": 3.3, "strokeDash": [0.1, 5.6], "strokeCap": "round", "interpolate": "monotone", "clip": true},
          "encoding": {"x": {"field": "i", "type": "quantitative"}, "y": {"field": "p", "type": "quantitative"}}
        },
        {
          "data": {"name": "ema8"},
          "mark": {"type": "line", "color": "#ee22ee", "strokeWidth": 2, "strokeDash": [0.1, 3.4], "strokeCap": "round", "interpolate": "monotone", "clip": true},
          "encoding": {"x": {"field": "i", "type": "quantitative"}, "y": {"field": "p", "type": "quantitative"}}
        },
        {
          "data": {"name": "trend"},
          "mark": {"type": "line", "color": "#1a2bd0", "strokeWidth": 2.2, "strokeDash": [7, 4], "clip": true},
          "encoding": {"x": {"field": "i", "type": "quantitative"}, "y": {"field": "p", "type": "quantitative"}, "detail": {"field": "t"}}
        },
        {
          "data": {"name": "arrow"},
          "mark": {"type": "line", "color": "#9b3fd4", "strokeWidth": 3.6, "clip": true},
          "encoding": {"x": {"field": "i", "type": "quantitative"}, "y": {"field": "p", "type": "quantitative"}}
        },
        {
          "data": {"values": [{}]},
          "mark": {"type": "point", "shape": "M1,0L-1,-0.8L-1,0.8Z", "size": 256, "angle": 41.5, "filled": true, "color": "#9b3fd4", "opacity": 1},
          "encoding": {"x": {"datum": 254.86}, "y": {"datum": 1.2009}}
        },
        {
          "data": {"values": [{}]},
          "mark": {"type": "text", "align": "left", "baseline": "middle", "font": "Liberation Sans", "fontSize": 10.5, "color": "#222222"},
          "encoding": {"x": {"datum": -1.62}, "y": {"datum": 1.4371}, "text": {"value": "aaaOHLC(6E 09-12 (Daily)), AAAPivots(6E 09-12 (Daily),Daily,DailyBars,0,0,0,300), EMA(6E 09-12 (Daily),20), EMA(6E 09-12 (Daily),8)"}}
        },
        {
          "data": {"values": [{}]},
          "mark": {"type": "text", "align": "right", "baseline": "middle", "font": "Liberation Sans", "fontSize": 10.5, "color": "#222222"},
          "encoding": {"x": {"datum": 265.3}, "y": {"datum": 1.1608}, "text": {"value": "aaaOHLC only works on intraday intervals"}}
        },
        {
          "data": {"values": [{}]},
          "mark": {"type": "text", "align": "center", "baseline": "middle", "font": "DejaVu Sans", "fontSize": 17, "color": "#222222"},
          "encoding": {"x": {"datum": 262.9}, "y": {"datum": 1.4339}, "text": {"value": "▷|"}}
        },
        {
          "data": {"values": [{}]},
          "mark": {"type": "point", "shape": "square", "size": 90, "filled": false, "stroke": "#555555", "strokeWidth": 1, "opacity": 1},
          "encoding": {"x": {"datum": 275.2}, "y": {"datum": 1.4384}}
        },
        {
          "data": {"values": [{}]},
          "mark": {"type": "text", "align": "center", "baseline": "middle", "font": "Liberation Sans", "fontSize": 8, "color": "#333333"},
          "encoding": {"x": {"datum": 275.2}, "y": {"datum": 1.4384}, "text": {"value": "F"}}
        },
        {
          "data": {"values": [{}]},
          "mark": {"type": "point", "shape": "M-1,0L-0.8,-0.32L1,-0.32L1,0.32L-0.8,0.32Z", "size": 1764, "filled": true, "color": "#e00000", "opacity": 1},
          "encoding": {"x": {"datum": 270}, "y": {"datum": 1.2301}}
        },
        {
          "data": {"values": [{}]},
          "mark": {"type": "point", "shape": "M-1,0L-0.8,-0.32L1,-0.32L1,0.32L-0.8,0.32Z", "size": 1764, "filled": true, "color": "#000000", "opacity": 1},
          "encoding": {"x": {"datum": 270}, "y": {"datum": 1.2309}}
        },
        {
          "data": {"values": [{}]},
          "mark": {"type": "text", "align": "center", "baseline": "middle", "font": "Liberation Sans", "fontSize": 11, "color": "#ffffff"},
          "encoding": {"x": {"datum": 270.5}, "y": {"datum": 1.2309}, "text": {"value": "1.2309"}}
        },
        {
          "data": {"values": [{}]},
          "mark": {"type": "point", "shape": "M-1,0L-0.8,-0.32L1,-0.32L1,0.32L-0.8,0.32Z", "size": 1764, "filled": true, "color": "#ff00ff", "opacity": 1},
          "encoding": {"x": {"datum": 270}, "y": {"datum": 1.2193}}
        },
        {
          "data": {"values": [{}]},
          "mark": {"type": "text", "align": "center", "baseline": "middle", "font": "Liberation Sans", "fontSize": 11, "color": "#ffffff"},
          "encoding": {"x": {"datum": 270.5}, "y": {"datum": 1.2193}, "text": {"value": "1.2193"}}
        },
        {
          "data": {"values": [{}]},
          "mark": {"type": "rule", "color": "#000000", "strokeWidth": 1, "clip": false},
          "encoding": {"x": {"datum": 266.2}, "x2": {"datum": 276.6}, "y": {"datum": 1.44073}}
        },
        {
          "data": {"values": [{}]},
          "mark": {"type": "rule", "color": "#000000", "strokeWidth": 1, "clip": false},
          "encoding": {"x": {"datum": 266.2}, "x2": {"datum": 276.6}, "y": {"datum": 1.15485}}
        },
        {
          "data": {"values": [{}]},
          "mark": {"type": "rule", "color": "#000000", "strokeWidth": 1, "clip": false},
          "encoding": {"x": {"datum": 276.6}, "y": {"datum": 1.15485}, "y2": {"datum": 1.44073}}
        }
      ]
    },
    {
      "width": 1610,
      "height": 201,
      "encoding": {
        "y": {"type": "quantitative", "scale": {"domain": [-28200, 319700], "nice": false, "zero": false},
              "axis": {"orient": "right", "title": null, "values": [0, 50000, 100000, 150000, 200000, 250000, 300000], "tickCount": 7, "labelExpr": "datum.value == 0 ? '0' : datum.value < 100000 ? format(datum.value, 'd') : format(datum.value / 1000, 'd') + 'K'", "tickSize": 6, "labelPadding": 2, "domain": false, "grid": false, "labelOverlap": false, "labelFont": "Liberation Sans", "labelFontSize": 11, "labelColor": "#000000", "tickColor": "#000000"}}
      },
      "layer": [
        {
          "data": {"name": "bars"},
          "mark": {"type": "bar", "width": 4.2, "clip": true},
          "encoding": {
            "x": {"field": "i", "type": "quantitative", "scale": {"domain": [-2.12, 266.2], "nice": false, "zero": false}, "axis": null},
            "y": {"field": "v", "type": "quantitative"},
            "y2": {"datum": 0},
            "color": {"field": "vc", "type": "nominal", "scale": {"domain": ["u", "d"], "range": ["#2eea2e", "#e01515"]}, "legend": null}
          }
        },
        {
          "data": {"values": [{}]},
          "mark": {"type": "rule", "color": "#a0a0a0", "strokeWidth": 1},
          "encoding": {"y": {"datum": 0, "type": "quantitative"}}
        },
        {
          "data": {"values": [{}]},
          "mark": {"type": "text", "align": "left", "baseline": "middle", "font": "Liberation Sans", "fontSize": 10.5, "color": "#222222"},
          "encoding": {"x": {"datum": -1.6}, "y": {"datum": 288000, "type": "quantitative"}, "text": {"value": "VolumeUpDown(6E 09-12 (Daily))"}}
        },
        {
          "data": {"values": [{}]},
          "mark": {"type": "point", "shape": "M-1,0L-0.8,-0.32L1,-0.32L1,0.32L-0.8,0.32Z", "size": 1764, "filled": true, "fill": "#2eea2e", "stroke": "#000000", "strokeWidth": 1, "opacity": 1},
          "encoding": {"x": {"datum": 270}, "y": {"datum": 76719, "type": "quantitative"}}
        },
        {
          "data": {"values": [{}]},
          "mark": {"type": "text", "align": "center", "baseline": "middle", "font": "Liberation Sans", "fontSize": 11, "color": "#003300"},
          "encoding": {"x": {"datum": 270.5}, "y": {"datum": 76719, "type": "quantitative"}, "text": {"value": "76719"}}
        },
        {
          "data": {"values": [{}]},
          "mark": {"type": "rule", "color": "#000000", "strokeWidth": 1, "clip": false},
          "encoding": {"x": {"datum": 266.2}, "x2": {"datum": 276.6}, "y": {"datum": -28200, "type": "quantitative"}}
        },
        {
          "data": {"values": [{}]},
          "mark": {"type": "rule", "color": "#000000", "strokeWidth": 1, "clip": false},
          "encoding": {"x": {"datum": 276.6}, "y": {"datum": -28200, "type": "quantitative"}, "y2": {"datum": 319700}}
        }
      ]
    },
    {
      "width": 1610,
      "height": 14,
      "layer": [
        {
          "data": {"name": "bars"},
          "mark": {"type": "square", "size": 22, "opacity": 1, "stroke": "#222222", "strokeWidth": 0.5, "clip": true},
          "encoding": {
            "x": {"field": "i", "type": "quantitative", "scale": {"domain": [-2.12, 266.2], "nice": false, "zero": false},
                  "axis": {"orient": "bottom", "title": null, "values": [6, 28, 49, 71, 92, 113, 134, 156, 177, 200, 221, 243], "labelExpr": "datum.value == 6 ? 'Sep' : datum.value == 28 ? 'Oct' : datum.value == 49 ? 'Nov' : datum.value == 71 ? 'Dec' : datum.value == 92 ? '12' : datum.value == 113 ? 'Feb' : datum.value == 134 ? 'Mar' : datum.value == 156 ? 'Apr' : datum.value == 177 ? 'May' : datum.value == 200 ? 'Jun' : datum.value == 221 ? 'Jul' : 'Aug'", "tickSize": 5, "labelPadding": 3, "domain": false, "grid": false, "labelFont": "Liberation Sans", "labelFontSize": 11, "labelColor": "#000000", "tickColor": "#000000", "labelFlush": false, "labelOverlap": false}},
            "y": {"datum": 0, "type": "quantitative", "scale": {"domain": [-0.75, 1], "nice": false, "zero": false},
                  "axis": {"orient": "right", "title": null, "values": [0], "format": "d", "tickSize": 6, "labelPadding": 2, "domain": false, "grid": false, "labelFont": "Liberation Sans", "labelFontSize": 11, "labelColor": "#000000", "tickColor": "#000000"}},
            "color": {"field": "sc", "type": "nominal", "scale": {"domain": ["u", "d"], "range": ["#2eea2e", "#e01515"]}, "legend": null}
          }
        },
        {
          "data": {"values": [{}]},
          "mark": {"type": "text", "align": "left", "baseline": "middle", "font": "Liberation Sans", "fontSize": 9.5, "color": "#333333"},
          "encoding": {"x": {"datum": -1.6}, "y": {"datum": 0.45}, "text": {"value": "© 2012 NinjaTrader, LLC"}}
        },
        {
          "data": {"values": [{}]},
          "mark": {"type": "rule", "color": "#000000", "strokeWidth": 1, "clip": false},
          "encoding": {"x": {"datum": 276.6}, "y": {"datum": -6.1}, "y2": {"datum": 1}}
        },
        {
          "data": {"values": [{}]},
          "mark": {"type": "rule", "color": "#000000", "strokeWidth": 1, "clip": false},
          "encoding": {"x": {"datum": -2.12}, "x2": {"datum": 276.6}, "y": {"datum": -6.1}}
        },
        {
          "data": {"values": [{}]},
          "mark": {"type": "rule", "color": "#000000", "strokeWidth": 1, "clip": false},
          "encoding": {"x": {"datum": -2.12}, "y": {"datum": -6.1}, "y2": {"datum": -0.75}}
        }
      ]
    }
  ],
  "config": {
    "view": {"stroke": "#000000", "strokeWidth": 1},
    "axis": {"labelFont": "Liberation Sans"}
  }
}
